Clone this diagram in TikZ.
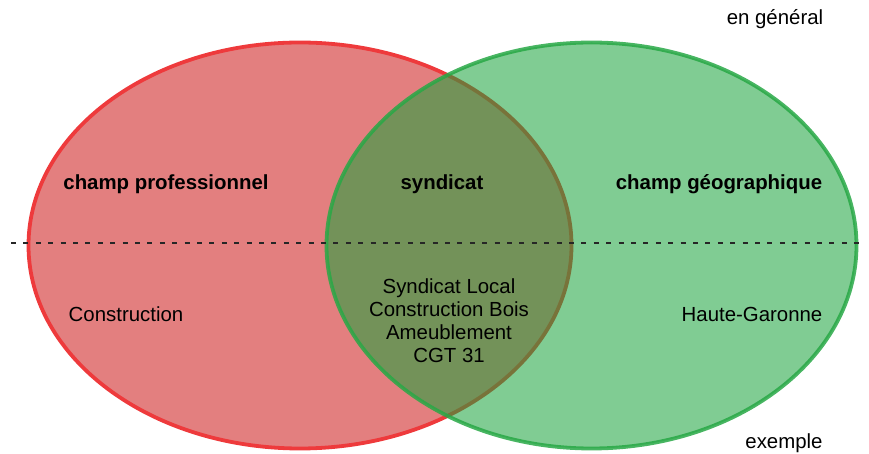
\documentclass[tikz,border=0pt]{standalone}
\usepackage{fontspec}
\setmainfont{Liberation Sans}
\usepackage{xcolor}
\usetikzlibrary{shapes.geometric,positioning}

\definecolor{profred}{RGB}{208,42,42}
\definecolor{profline}{RGB}{238,58,60}
\definecolor{geogreen}{RGB}{24,162,58}
\definecolor{geoline}{RGB}{40,168,70}

\begin{document}
\begin{tikzpicture}[
    x=0.5pt, y=-0.5pt,
    font=\fontsize{10.2}{11.5}\selectfont,
    champ/.style={ellipse, inner sep=0pt, line width=1.9pt},
    title/.style={font=\fontsize{10.2}{11.5}\selectfont\bfseries},
    lbl/.style={align=center, inner sep=0pt},
    sep/.style={dash pattern=on 2.5pt off 3.7pt, line width=1pt, black!85}
]
\useasboundingbox (0,0) rectangle (869,454);

\node[champ, draw=profline, fill=profred, fill opacity=0.6,
      minimum width=271.5pt, minimum height=203pt] (prof) at (300,245.5) {};
\node[champ, draw=geoline, draw opacity=0.85, fill=geogreen, fill opacity=0.55,
      minimum width=265pt, minimum height=203pt] (geo) at (591.5,245.5) {};

\coordinate (sepL) at (11,243);
\coordinate (sepR) at (862,243);
\draw[sep] (sepL) -- (sepR);

\node[lbl] (gen) at (775,19) {en général};
\node[lbl] (ex) at (784,443) {exemple};

\node[lbl, title] (tprof) at (166,184) {champ professionnel};
\node[lbl, title] (tsyn) at (442,184) {syndicat};
\node[lbl, title] (tgeo) at (719,184) {champ géographique};

\node[lbl] (eprof) at (126,314) {Construction};
\node[lbl] (egeo) at (752,314) {Haute-Garonne};
\node[lbl] (esyn) at (449,321) {Syndicat Local\\Construction Bois\\Ameublement\\CGT 31};
\end{tikzpicture}
\end{document}
